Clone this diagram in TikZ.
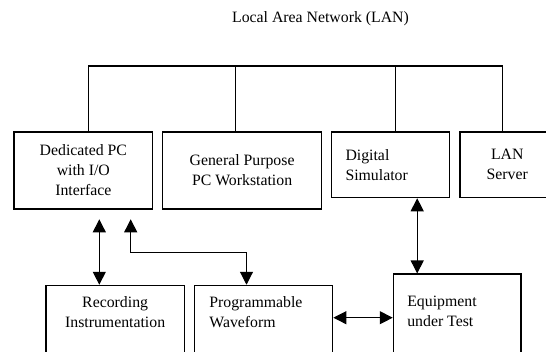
\documentclass[tikz,border=0pt]{standalone}
\usepackage{fontspec}
\setmainfont{Liberation Serif}
\usepackage{tikz}
\usetikzlibrary{positioning,arrows.meta}

\begin{document}
\begin{tikzpicture}[x=1pt,y=-1pt,
		font=\fontsize{15.8}{20}\selectfont,
		line width=1.1pt,
		>={Triangle[length=13pt,width=13pt]},
		block/.style={draw, inner sep=0pt, align=center},
		lblock/.style={draw, inner xsep=14pt, inner ysep=0pt, align=left},
		txt/.style={inner sep=0pt, anchor=north, align=center}
	]
			\useasboundingbox (0,0) rectangle (546,351);
			\clip (0,0) rectangle (546,351);

			% LAN title
			\node [anchor=base] (title) at (320.5,22.7) {Local Area Network (LAN)};

			% Dedicated PC
			\node [block,
				minimum width=138.7pt,
				minimum height=77pt
				] (ded) at (83.35,170.5) {Dedicated PC\\with I/O\\Interface};

			% General Purpose PC
			\node [block,
				minimum width=159.4pt,
				minimum height=77pt,
				right=8.6pt of ded
				] (gen) {General Purpose\\PC Workstation};

			% Digital Simulator
			\node [lblock,
				text width=90pt,
				minimum height=65.7pt,
				right=8.6pt of gen.north east,
				anchor=north west
				] (dig) {Digital\\Simulator};

			% LAN Server
			\node [block,
				minimum width=94.6pt,
				minimum height=65.7pt,
				right=9.4pt of dig
				] (srv) {LAN\\Server};

			% Recording Instrumentation
			\node [block,
				minimum width=138.3pt,
				minimum height=94.7pt
				] (rec) at (115.15,332.65) {};
			\node [txt] (rect) at ([yshift=-11.2pt]rec.north) {Recording\\Instrumentation};

			% Programmable Waveform
			\node [block,
				minimum width=138.4pt,
				minimum height=94.7pt,
				right=9pt of rec
				] (prog) {};
			\node [txt, anchor=north west, align=left] (progt) at ([xshift=15pt,yshift=-11pt]prog.north west) {Programmable\\Waveform};

			% Equipment under Test
			\node [block,
				minimum width=127.7pt,
				minimum height=106pt
				] (eut) at (457.15,327) {};
			\node [txt, anchor=north west, align=left] (eutt) at ([xshift=14pt,yshift=-21.9pt]eut.north west) {Equipment\\under Test};

			% LAN bus
			\coordinate (bus) at (0,66);
			\coordinate (dedT) at ([xshift=4.7pt]ded.north);
			\coordinate (genT) at ([xshift=-6.5pt]gen.north);
			\coordinate (digT) at ([xshift=5.2pt]dig.north);
			\coordinate (srvT) at ([xshift=-4.7pt]srv.north);
			\draw (dedT) -- (dedT |- bus) -- (srvT |- bus) -- (srvT);
			\draw (genT) -- (genT |- bus);
			\draw (digT) -- (digT |- bus);

			% Arrows
			\coordinate (inA) at (99.3,219.3);
			\coordinate (inB) at (130.7,219.3);
			\coordinate (bend) at (246.5,252.3);
			\coordinate (simB) at ([xshift=26.7pt]dig.south);
			\coordinate (mid) at (0,317.7);
			\draw[<->] (inA) -- (inA |- rec.north);
			\draw[<->] (inB) |- (bend) -- (bend |- prog.north);
			\draw[<->] (simB) -- (simB |- eut.north);
			\draw[<->] (prog.east |- mid) -- (eut.west |- mid);

		\end{tikzpicture}
\end{document}
